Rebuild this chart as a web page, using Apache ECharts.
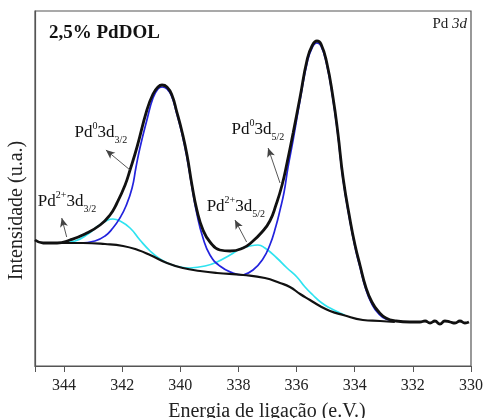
<!DOCTYPE html>
<html>
<head>
<meta charset="utf-8">
<script src="https://cdn.jsdelivr.net/npm/echarts@6/dist/echarts.min.js"></script>
<style>
  html, body { margin: 0; padding: 0; background: #fff; }
  #main { width: 485px; height: 418px; }
</style>
</head>
<body>
<div id="main"></div>
<script>
// [binding energy (eV), intensity (a.u.)]
const envelope = [[345.00,126],[344.72,123],[344.24,123],[343.80,126],[343.28,132],[342.76,141],[342.42,151],[342.18,163],[341.90,181],[341.73,196],[341.49,219],[341.15,256],[340.94,272],[340.77,279],[340.63,281],[340.46,279],[340.29,271],[340.12,254],[339.94,234],[339.77,211],[339.60,181],[339.43,156],[339.22,136],[338.98,124],[338.64,116],[338.29,115],[337.84,118],[337.54,124],[337.19,134],[336.92,145],[336.71,161],[336.50,181],[336.33,203],[336.12,233],[335.88,269],[335.64,306],[335.47,320],[335.30,325],[335.16,322],[334.96,303],[334.75,269],[334.58,233],[334.40,188],[334.16,146],[333.99,121],[333.82,101],[333.61,78],[333.41,64],[333.20,55],[332.93,48],[332.58,45],[332.10,44],[331.76,44],[331.58,45],[331.41,43],[331.24,45],[331.07,42],[330.90,45],[330.72,44],[330.55,43],[330.38,45],[330.21,43],[330.07,44]];
const background = [[344.72,123],[344.14,123],[343.35,123],[342.59,122],[341.97,120],[341.46,116],[341.04,111],[340.46,103],[339.91,98],[339.32,95],[338.74,93],[337.84,91],[337.09,88],[336.57,83],[336.23,79],[335.88,72],[335.54,66],[335.20,60],[334.85,55],[334.40,51],[333.72,46],[333.13,45],[332.62,44]];
const pd0_32 = [[343.45,123],[342.94,125],[342.59,130],[342.32,138],[342.08,148],[341.87,160],[341.66,178],[341.53,198],[341.39,218],[341.15,246],[340.94,268],[340.77,277],[340.63,279],[340.46,277],[340.29,269],[340.12,252],[339.94,232],[339.77,208],[339.60,179],[339.43,152],[339.22,128],[338.98,111],[338.64,100],[338.19,93],[337.84,91]];
const pd0_52 = [[337.84,91],[337.50,96],[337.16,107],[336.92,121],[336.71,140],[336.57,156],[336.43,174],[336.30,198],[336.12,226],[335.88,266],[335.64,303],[335.47,318],[335.30,323],[335.16,320],[334.96,301],[334.75,267],[334.58,231],[334.40,186],[334.16,144],[333.99,119],[333.82,99],[333.61,76],[333.41,62],[333.20,53],[332.93,47],[332.58,45]];
const pd2_32 = [[344.14,123],[343.62,125],[343.18,132],[342.83,140],[342.56,145],[342.32,147],[342.08,145],[341.73,138],[341.39,126],[341.04,115],[340.70,107],[340.36,102],[340.01,99],[339.67,98]];
const pd2_52 = [[339.67,98],[339.15,100],[338.74,104],[338.29,111],[337.95,117],[337.60,120],[337.33,121],[337.09,118],[336.68,108],[336.33,98],[335.99,89],[335.71,79],[335.44,71],[335.13,63],[334.85,58],[334.51,53],[334.34,51]];

const xTicks = [330, 332, 334, 336, 338, 340, 342, 344];

// peak labels and their arrows
const annoIon = ['0', '0', '2+', '2+'];
const annoLevel = ['3/2', '5/2', '3/2', '5/2'];
const annoAt = [[342.73,233],[337.33,236],[343.90,164],[338.09,159]];
const arrowFrom = [[341.73,196],[336.57,183],[343.91,129],[337.72,124]];
const arrowTo = [[342.56,216],[336.98,218],[344.08,148],[338.12,146]];

const serif = '"Liberation Serif", "DejaVu Serif", serif';
const chart = echarts.init(document.getElementById('main'));

function lineSeries(name, data, color, width) {
  return {
    name: name,
    type: 'line',
    data: data,
    smooth: 0.5,
    showSymbol: false,
    silent: true,
    lineStyle: { color: color, width: width },
    z: 2
  };
}

const option = {
  animation: false,
  backgroundColor: '#fff',
  title: [
    {
      text: '2,5% PdDOL',
      left: 49, top: 24, padding: 0,
      textStyle: { fontFamily: serif, fontWeight: 'bold', fontSize: 19, color: '#111' }
    },
    {
      text: '{n|Pd }{i|3d}',
      right: 18, top: 17, padding: 0,
      textStyle: {
        fontWeight: 'normal',
        rich: {
          n: { fontFamily: serif, fontSize: 15, fontWeight: 'normal', color: '#222' },
          i: { fontFamily: serif, fontSize: 15, fontWeight: 'normal', fontStyle: 'italic', color: '#222' }
        }
      }
    }
  ],
  grid: {
    left: 35, right: 14, top: 11, bottom: 52,
    show: true, borderColor: '#555', borderWidth: 1.2,
    outerBoundsMode: 'none'
  },
  xAxis: {
    type: 'value',
    inverse: true,
    min: xTicks[0],
    max: 345,
    interval: 2,
    name: 'Energia de ligação (e.V.)',
    nameLocation: 'middle',
    nameGap: 36,
    nameTextStyle: { fontFamily: serif, fontSize: 20, color: '#222', padding: [0, 0, 0, 28] },
    axisLine: { show: true, lineStyle: { color: '#555', width: 1.2 } },
    axisTick: { show: true, inside: false, length: 6, lineStyle: { color: '#555' } },
    axisLabel: {
      fontFamily: serif, fontSize: 16, color: '#222', margin: 12,
      formatter: v => (xTicks.indexOf(v) >= 0 ? String(v) : '')
    },
    splitLine: { show: false }
  },
  yAxis: {
    type: 'value',
    min: 0,
    max: 355,
    name: 'Intensidade (u.a.)',
    nameLocation: 'middle',
    nameGap: 8,
    nameTextStyle: { fontFamily: serif, fontSize: 20, color: '#222', padding: [0, 44, 0, 0] },
    axisLine: { show: true, lineStyle: { color: '#555', width: 1.2 } },
    axisTick: { show: false },
    axisLabel: { show: false },
    splitLine: { show: false }
  },
  series: [
    lineSeries('Pd2+ 3d3/2', pd2_32, '#2fe3f0', 1.7),
    lineSeries('Pd2+ 3d5/2', pd2_52, '#2fe3f0', 1.7),
    lineSeries('Pd0 3d3/2', pd0_32, '#2323dd', 1.7),
    lineSeries('Pd0 3d5/2', pd0_52, '#2323dd', 1.7),
    lineSeries('Background', background, '#111', 2.2),
    Object.assign(lineSeries('Envelope', envelope, '#111', 2.8), {
      z: 3,
      markLine: {
        silent: true,
        animation: false,
        symbol: ['none', 'arrow'],
        symbolSize: [6, 9],
        label: { show: false },
        lineStyle: { color: '#444', width: 0.9, type: 'solid' },
        data: arrowFrom.map((p, i) => [{ coord: p }, { coord: arrowTo[i] }])
      }
    })
  ]
};

chart.setOption(option);

// peak labels placed through the grid's scales
const rich = {
  n: { fontFamily: serif, fontSize: 17, fill: '#111', lineHeight: 24 },
  sup: { fontFamily: serif, fontSize: 10, fill: '#111', lineHeight: 11, verticalAlign: 'top' },
  sub: { fontFamily: serif, fontSize: 10, fill: '#111', lineHeight: 11, verticalAlign: 'bottom' }
};
chart.setOption({
  graphic: annoAt.map((p, i) => {
    const px = chart.convertToPixel({ gridIndex: 0 }, p);
    return {
      type: 'text',
      x: px[0],
      y: px[1],
      z: 10,
      silent: true,
      style: {
        text: '{n|Pd}{sup|' + annoIon[i] + '}{n|3d}{sub|' + annoLevel[i] + '}',
        align: 'center',
        verticalAlign: 'middle',
        rich: rich
      }
    };
  })
});
</script>
</body>
</html>
